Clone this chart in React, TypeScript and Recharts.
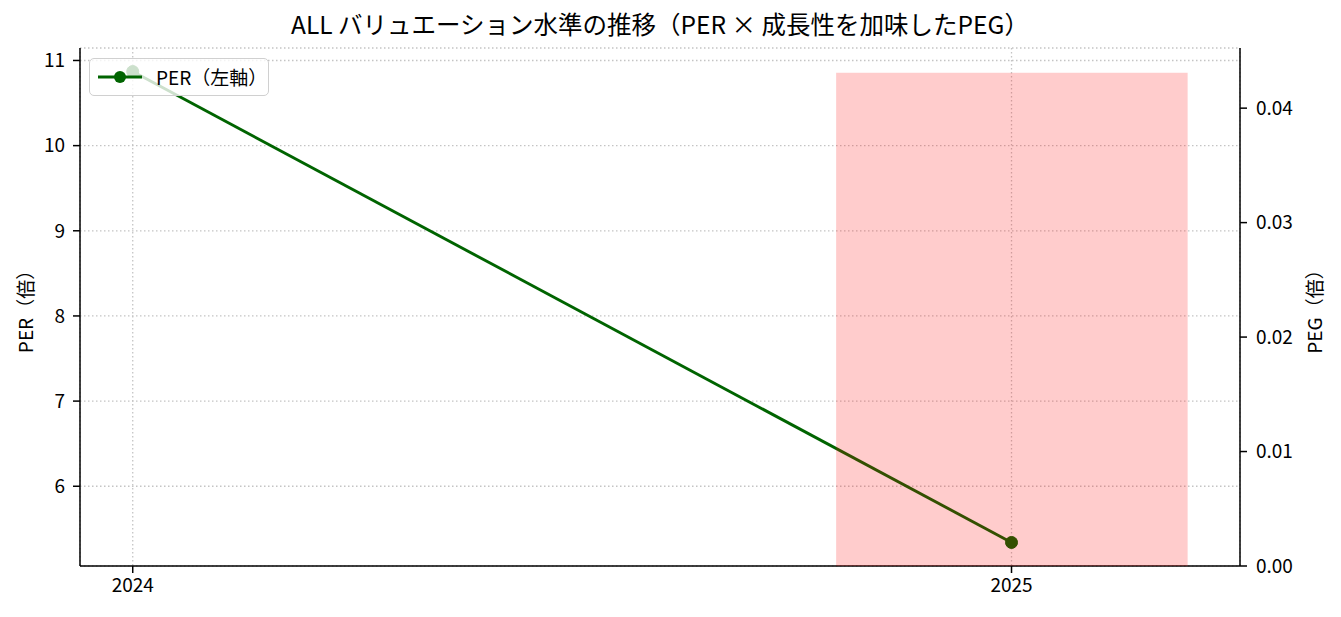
import React from 'react';
import { ComposedChart, Line, Bar, XAxis, YAxis, CartesianGrid, Legend, Label } from 'recharts';

const years = [2024, 2025];
const perValues = [10.87, 5.34];
const pegValues: (number | null)[] = [null, 0.0431];
const xTicks = [2024, 2025];
const perTicks = [6, 7, 8, 9, 10, 11];
const pegTicks = [0, 0.01, 0.02, 0.03, 0.04];

const TITLE = 'ALL バリュエーション水準の推移（PER × 成長性を加味したPEG）';
const LEFT_LABEL = 'PER（倍）';
const RIGHT_LABEL = 'PEG（倍）';
const LEGEND_LABEL = 'PER（左軸）';

const data = years.map((y, i) => ({ year: y, per: perValues[i], peg: pegValues[i] }));

// matplotlib-like autoscale (5% margins)
const BAR_WIDTH = 0.4;
const pegYears = years.filter((_, i) => pegValues[i] != null);
const xLo = Math.min(...years, ...pegYears.map((y) => y - BAR_WIDTH / 2));
const xHi = Math.max(...years, ...pegYears.map((y) => y + BAR_WIDTH / 2));
const xPad = (xHi - xLo) * 0.05;
const xDomain: [number, number] = [xLo - xPad, xHi + xPad];
const perLo = Math.min(...perValues);
const perHi = Math.max(...perValues);
const perPad = (perHi - perLo) * 0.05;
const perDomain: [number, number] = [perLo - perPad, perHi + perPad];
const pegMax = Math.max(...(pegValues.filter((v) => v != null) as number[]));
const pegDomain: [number, number] = [0, pegMax * 1.05];

const W = 1341;
const H = 617;
const PLOT_L = 80;
const PLOT_R = 1240;
const PLOT_T = 48;
const PLOT_B = 566;
const LW = 60;
const RW = 70;
const XH = 40;
const plotWidth = PLOT_R - PLOT_L;
const barSize = (plotWidth * BAR_WIDTH) / (xDomain[1] - xDomain[0]);

const FONT = "'Noto Sans CJK JP', 'Noto Sans', sans-serif";
const GREEN = '#006400';

const tickStyle = { fill: '#000', fontSize: 19, fontFamily: FONT };

const LegendBox = () => (
  <div
    style={{
      boxSizing: 'border-box',
      width: 180,
      height: 38,
      background: 'rgba(255,255,255,0.8)',
      border: '1.5px solid #d0d0d0',
      borderRadius: 5,
      position: 'relative',
      fontFamily: FONT,
    }}
  >
    <svg width={60} height={36} style={{ position: 'absolute', left: 0, top: 0 }}>
      <line x1={8} y1={18} x2={52} y2={18} stroke={GREEN} strokeWidth={2.9} />
      <circle cx={30} cy={18} r={6} fill={GREEN} />
    </svg>
    <span
      style={{
        position: 'absolute',
        left: 66,
        top: 0,
        lineHeight: '35px',
        fontSize: 19,
        color: '#000',
        whiteSpace: 'nowrap',
      }}
    >
      {LEGEND_LABEL}
    </span>
  </div>
);

export default function App() {
  return (
    <div
      style={{
        position: 'fixed',
        left: 0,
        top: 0,
        width: W,
        height: H,
        background: '#fff',
        fontFamily: FONT,
        overflow: 'hidden',
      }}
    >
      <div
        style={{
          position: 'absolute',
          left: PLOT_L,
          width: plotWidth,
          top: 7,
          textAlign: 'center',
          fontSize: 24.5,
          lineHeight: '34px',
          color: '#000',
          whiteSpace: 'nowrap',
          zIndex: 2,
        }}
      >
        {TITLE}
      </div>
      <ComposedChart
        width={W}
        height={H}
        data={data}
        margin={{ top: PLOT_T, right: W - PLOT_R - RW, bottom: H - PLOT_B - XH, left: PLOT_L - LW }}
      >
        <CartesianGrid
          xAxisId="main"
          yAxisId="left"
          stroke="#c4c4c4"
          strokeWidth={1.3}
          strokeDasharray="1.5 2.5"
        />
        <XAxis
          xAxisId="main"
          dataKey="year"
          type="number"
          domain={xDomain}
          ticks={xTicks}
          allowDataOverflow
          height={XH}
          tick={tickStyle}
          tickSize={7}
          tickMargin={6}
          tickLine={{ stroke: '#000', strokeWidth: 1.5 }}
          axisLine={{ stroke: '#000', strokeWidth: 1.5 }}
        />
        <XAxis
          xAxisId="top"
          orientation="top"
          type="number"
          domain={xDomain}
          allowDataOverflow
          height={0}
          tick={false}
          tickLine={false}
          axisLine={{ stroke: '#000', strokeWidth: 1.5 }}
        />
        <YAxis
          yAxisId="left"
          type="number"
          domain={perDomain}
          ticks={perTicks}
          allowDataOverflow
          width={LW}
          tick={tickStyle}
          tickSize={7}
          tickMargin={8}
          tickLine={{ stroke: '#000', strokeWidth: 1.5 }}
          axisLine={{ stroke: '#000', strokeWidth: 1.5 }}
        >
          <Label
            content={(props: any) => {
              const vb = props.viewBox || { x: 20, y: PLOT_T, width: LW, height: PLOT_B - PLOT_T };
              const cx = 24;
              const cy = vb.y + vb.height / 2;
              return (
                <text
                  x={cx}
                  y={cy}
                  transform={`rotate(-90 ${cx} ${cy})`}
                  textAnchor="middle"
                  dominantBaseline="central"
                  fontSize={19}
                  fontFamily={FONT}
                  fill="#000"
                >
                  {LEFT_LABEL}
                </text>
              );
            }}
          />
        </YAxis>
        <YAxis
          yAxisId="right"
          orientation="right"
          type="number"
          domain={pegDomain}
          ticks={pegTicks}
          allowDataOverflow
          width={RW}
          tick={tickStyle}
          tickFormatter={(v: number) => v.toFixed(2)}
          tickSize={7}
          tickMargin={9}
          tickLine={{ stroke: '#000', strokeWidth: 1.5 }}
          axisLine={{ stroke: '#000', strokeWidth: 1.5 }}
        >
          <Label
            content={(props: any) => {
              const vb = props.viewBox || { x: PLOT_R, y: PLOT_T, width: RW, height: PLOT_B - PLOT_T };
              const cx = 1313;
              const cy = vb.y + vb.height / 2;
              return (
                <text
                  x={cx}
                  y={cy}
                  transform={`rotate(-90 ${cx} ${cy})`}
                  textAnchor="middle"
                  dominantBaseline="central"
                  fontSize={19}
                  fontFamily={FONT}
                  fill="#000"
                >
                  {RIGHT_LABEL}
                </text>
              );
            }}
          />
        </YAxis>
        <Line
          xAxisId="main"
          yAxisId="left"
          dataKey="per"
          stroke={GREEN}
          strokeWidth={2.9}
          dot={{ r: 6, fill: GREEN, stroke: GREEN, strokeWidth: 1 }}
          activeDot={false}
          isAnimationActive={false}
        />
        <Bar
          xAxisId="main"
          yAxisId="right"
          dataKey="peg"
          fill="#ff0000"
          fillOpacity={0.2}
          barSize={barSize}
          zIndex={1500}
          isAnimationActive={false}
        />
        <Legend
          layout="horizontal"
          verticalAlign="middle"
          align="center"
          wrapperStyle={{ left: 89, top: 58, width: 180, height: 38 }}
          content={() => <LegendBox />}
        />
      </ComposedChart>
    </div>
  );
}
